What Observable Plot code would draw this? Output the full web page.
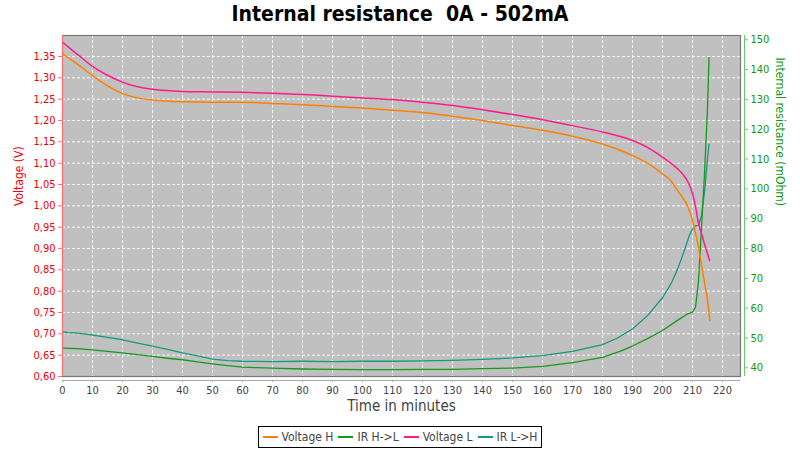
<!DOCTYPE html>
<html>
<head>
<meta charset="utf-8">
<script src="https://cdn.jsdelivr.net/npm/d3@7"></script>
<script src="https://cdn.jsdelivr.net/npm/@observablehq/plot@0.6"></script>
<style>
  html, body { margin: 0; padding: 0; background: #fff; width: 800px; height: 450px; overflow: hidden; }
  #title { height: 28px; line-height: 28px; text-align: center; white-space: pre; font-family: "DejaVu Sans Condensed", "DejaVu Sans", sans-serif; font-stretch: condensed; font-weight: bold; font-size: 21px; color: #000; }
  #chart svg { display: block; }
  #legend { display: flex; justify-content: center; margin-top: 6px; }
  #legend .box { display: flex; align-items: center; border: 1px solid #000; height: 20px; padding: 0 4px; font-family: "DejaVu Sans Condensed", "DejaVu Sans", sans-serif; font-stretch: condensed; font-size: 12px; color: #444; }
  #legend .item { display: flex; align-items: center; margin-right: 5px; }
  #legend .item:last-child { margin-right: 0; }
  #legend .sw { width: 15px; height: 2px; margin-right: 4px; }
</style>
</head>
<body>
<div id="title">Internal resistance  0A - 502mA</div>
<div id="chart"></div>
<div id="legend"></div>
<script>
// ---- data ----
const seriesNames = ["Voltage H", "IR H->L", "Voltage L", "IR L->H"];
const seriesColors = ["#ff8000", "#17991a", "#ff1a8c", "#149a7c"];

const timeVH = [0, 2, 5, 10, 15, 20, 25, 30, 40, 50, 60, 70, 80, 90, 100, 110, 120, 130, 140, 150, 160, 170, 180, 190, 195, 200, 203, 205, 207, 208, 209, 210, 211, 212, 213, 214, 215, 215.8];
const voltH  = [1.357, 1.347, 1.332, 1.305, 1.281, 1.263, 1.253, 1.248, 1.244, 1.243, 1.243, 1.240, 1.237, 1.233, 1.229, 1.224, 1.219, 1.210, 1.200, 1.188, 1.177, 1.163, 1.145, 1.118, 1.100, 1.075, 1.057, 1.036, 1.016, 1.005, 0.988, 0.966, 0.936, 0.903, 0.862, 0.820, 0.778, 0.731];

const timeVL = [0, 2, 5, 10, 15, 20, 25, 30, 40, 50, 60, 70, 80, 90, 100, 110, 120, 130, 140, 150, 160, 170, 180, 190, 195, 200, 203, 205, 207, 208, 209, 210, 211, 212, 213, 214, 215, 215.7];
const voltL  = [1.384, 1.372, 1.355, 1.327, 1.306, 1.290, 1.279, 1.273, 1.268, 1.267, 1.266, 1.264, 1.261, 1.257, 1.253, 1.249, 1.243, 1.235, 1.225, 1.214, 1.202, 1.188, 1.173, 1.153, 1.137, 1.114, 1.099, 1.087, 1.072, 1.062, 1.048, 1.029, 0.998, 0.959, 0.935, 0.910, 0.888, 0.872];

const timeIrHL = [0, 5, 10, 15, 20, 25, 30, 35, 40, 45, 50, 55, 60, 70, 80, 90, 100, 110, 120, 130, 140, 150, 160, 170, 180, 186, 190, 195, 200, 205, 208, 210, 211, 212, 213, 214, 215, 215.5];
const irHL     = [46.6, 46.4, 46.0, 45.5, 45.0, 44.4, 43.8, 43.2, 42.7, 42.0, 41.3, 40.7, 40.2, 39.9, 39.6, 39.5, 39.4, 39.4, 39.5, 39.5, 39.7, 39.9, 40.5, 41.7, 43.5, 45.6, 47.3, 49.8, 52.5, 55.9, 57.9, 58.7, 60.3, 69.0, 87.0, 105.0, 127.0, 144.0];

const timeIrLH = [0, 2, 5, 10, 15, 20, 25, 30, 35, 40, 45, 50, 55, 60, 70, 80, 90, 100, 110, 120, 130, 140, 150, 160, 170, 180, 185, 190, 195, 200, 203, 205, 207, 208, 209, 210, 211, 212, 213, 214, 215, 215.5];
const irLH     = [52.0, 51.8, 51.6, 51.0, 50.2, 49.4, 48.3, 47.3, 46.2, 45.0, 44.0, 42.9, 42.4, 42.2, 42.1, 42.2, 42.1, 42.2, 42.2, 42.3, 42.5, 42.8, 43.3, 44.1, 45.5, 47.8, 50.0, 53.0, 57.5, 63.5, 68.5, 73.0, 78.5, 81.5, 84.5, 86.5, 87.7, 87.7, 91.0, 99.0, 110.0, 115.0];

const xTicks = [0, 10, 20, 30, 40, 50, 60, 70, 80, 90, 100, 110, 120, 130, 140, 150, 160, 170, 180, 190, 200, 210, 220];
const vTicks = [0.60, 0.65, 0.70, 0.75, 0.80, 0.85, 0.90, 0.95, 1.00, 1.05, 1.10, 1.15, 1.20, 1.25, 1.30, 1.35];
const rTicks = [40, 50, 60, 70, 80, 90, 100, 110, 120, 130, 140, 150];

// ---- scales ----
const xMax = 226;
const yLo = 0.60, yHi = 1.3992;
// right axis (mOhm) expressed in the left (V) scale
const irToV = r => 0.6204 + (r - 40) * 0.006989;
const vToIr = v => (v - 0.6204) / 0.006989 + 40;

const mk = (ts, vs) => ts.map((t, i) => ({t, v: vs[i]}));
const dVH = mk(timeVH, voltH);
const dVL = mk(timeVL, voltL);
const dHL = mk(timeIrHL, irHL);
const dLH = mk(timeIrLH, irLH);

const font = '"DejaVu Sans Condensed", "DejaVu Sans", sans-serif';

const chart = Plot.plot({
  width: 800,
  height: 392,
  marginLeft: 62,
  marginRight: 60,
  marginTop: 7,
  marginBottom: 44,
  x: {domain: [0, xMax]},
  y: {domain: [yLo, yHi]},
  style: {fontFamily: font, fontSize: "11px", background: "#fff", overflow: "visible"},
  marks: [
    Plot.frame({fill: "#c0c0c0", stroke: null}),
    Plot.gridX({ticks: xTicks, stroke: "#ffffff", strokeOpacity: 0.85, strokeDasharray: "3,2", strokeWidth: 1}),
    Plot.gridY({ticks: vTicks, stroke: "#ffffff", strokeOpacity: 0.85, strokeDasharray: "3,2", strokeWidth: 1}),
    Plot.line(dLH, {x: "t", y: d => irToV(d.v), stroke: seriesColors[3], strokeWidth: 1.3}),
    Plot.line(dHL, {x: "t", y: d => irToV(d.v), stroke: seriesColors[1], strokeWidth: 1.3}),
    Plot.line(dVH, {x: "t", y: "v", stroke: seriesColors[0], strokeWidth: 1.5, curve: "monotone-x"}),
    Plot.line(dVL, {x: "t", y: "v", stroke: seriesColors[2], strokeWidth: 1.5, curve: "monotone-x"}),
    Plot.frame({stroke: "#777", strokeWidth: 1.2}),
    // axis lines
    Plot.ruleX([0], {stroke: "#ff7070", strokeWidth: 1}),
    Plot.ruleX([xMax], {stroke: "#66cc66", strokeWidth: 1, dx: 4}),
    Plot.ruleY([yLo], {stroke: "#aaaaaa", strokeWidth: 1, dy: 4}),
    // axes
    Plot.axisY({anchor: "left", ticks: vTicks, tickFormat: d => d.toFixed(2).replace(".", ","), tickSize: 4, tickPadding: 3, stroke: "#ff7070", fill: "#ee0000", label: null, fontSize: 11}),
    Plot.axisY({anchor: "right", ticks: rTicks.map(irToV), tickFormat: v => String(Math.round(vToIr(v))), tickSize: 3, tickPadding: 3, dx: 4, stroke: "#66cc66", fill: "#119911", label: null, fontSize: 11}),
    Plot.axisX({anchor: "bottom", ticks: xTicks, tickFormat: d => String(d), tickSize: 2, tickPadding: 4, dy: 4, stroke: "#aaaaaa", fill: "#444", label: null, fontSize: 11}),
    // axis titles
    Plot.text(["Voltage (V)"], {frameAnchor: "left", dx: -43, rotate: -90, fill: "#ee0000", fontSize: 12, text: d => d}),
    Plot.text(["Internal resistance (mOhm)"], {frameAnchor: "right", dx: 39, rotate: 90, fill: "#119911", fontSize: 12, text: d => d}),
    Plot.text(["Time in minutes"], {frameAnchor: "bottom", dy: 34, fill: "#444", fontSize: 15, text: d => d})
  ]
});
document.getElementById("chart").appendChild(chart);

// legend
const box = document.createElement("div");
box.className = "box";
seriesNames.forEach((name, i) => {
  const it = document.createElement("div");
  it.className = "item";
  const sw = document.createElement("div");
  sw.className = "sw";
  sw.style.background = seriesColors[i];
  const tx = document.createElement("span");
  tx.textContent = name;
  it.appendChild(sw);
  it.appendChild(tx);
  box.appendChild(it);
});
document.getElementById("legend").appendChild(box);
</script>
</body>
</html>
